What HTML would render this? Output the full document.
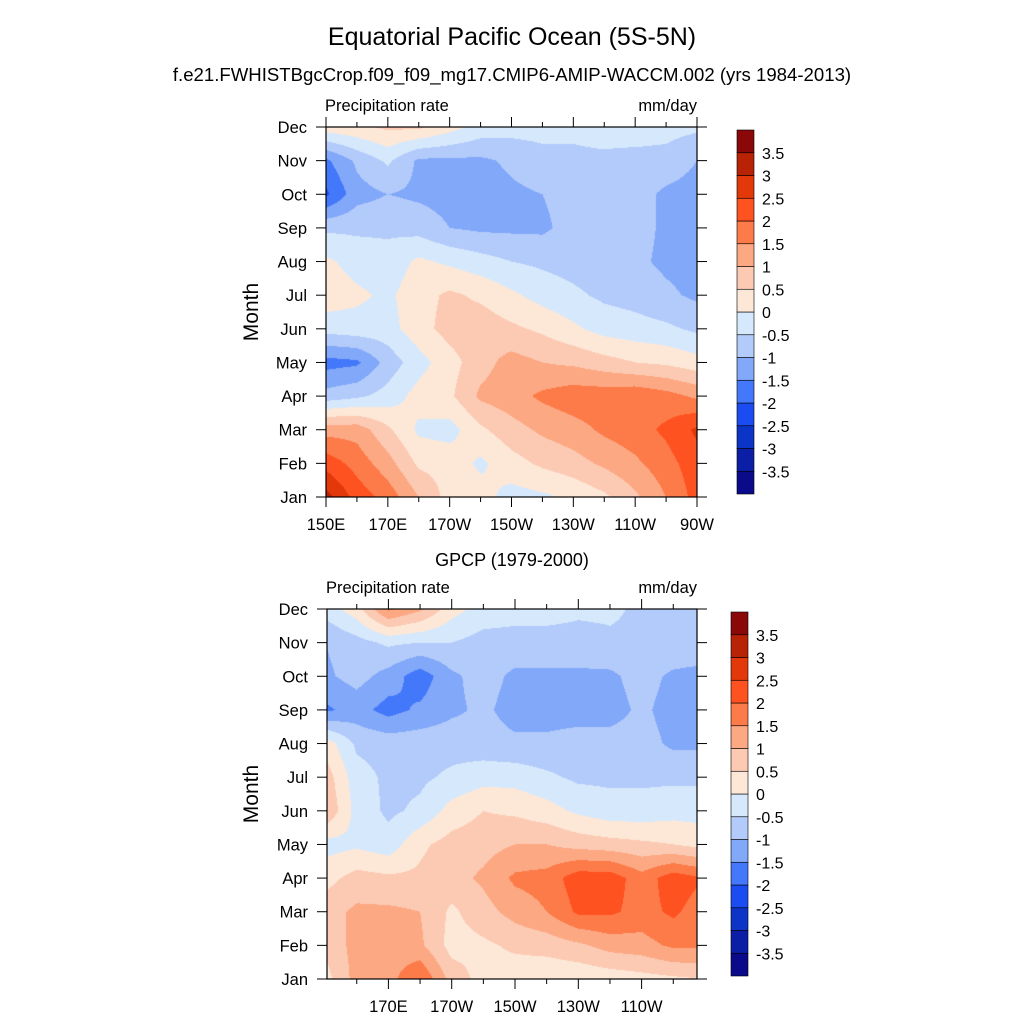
<!DOCTYPE html>
<html><head><meta charset="utf-8">
<style>
body{margin:0;background:#fff;}
#wrap{position:relative;width:1024px;height:1024px;overflow:hidden;background:#fff;font-family:"Liberation Sans",sans-serif;}
canvas{position:absolute;}
svg{position:absolute;left:0;top:0;}
</style></head>
<body>
<div id="wrap">
<canvas id="c1" width="371" height="370" style="left:326px;top:127px"></canvas>
<canvas id="c2" width="370" height="370" style="left:327px;top:609px"></canvas>
<svg id="s" width="1024" height="1024"></svg>
</div>
<script>
const months = ["Jan","Feb","Mar","Apr","May","Jun","Jul","Aug","Sep","Oct","Nov","Dec"];
const lonsDeg = [150,160,170,180,190,200,210,220,230,240,250,260,270];
const xTickLabels = ["150E","170E","170W","150W","130W","110W","90W"];
const xTickLons = [150,170,190,210,230,250,270];
const cbLabels = ["3.5","3","2.5","2","1.5","1","0.5","0","-0.5","-1","-1.5","-2","-2.5","-3","-3.5"];
const levelColors = ["#0a0a8a","#0b1fa6","#0c34c6","#1a4cf2","#4478fb","#82a8f9","#b3cbfa","#d6e8fc","#fde8d8","#fccab3","#fca883","#fd7b48","#fe5220","#e3380a","#b82306","#8a0808"];
// model: rows Jan..Dec, cols 150E..90W
const modelVals = [
[3.2,2.3,1.8,1.0,0.3,0.2,-0.2,-0.1,0.1,0.4,0.9,1.5,2.2],
[2.3,1.8,1.2,0.4,0.3,-0.1,0.3,0.6,0.8,1.1,1.4,1.8,2.3],
[1.3,1.3,0.6,-0.1,-0.2,0.4,0.8,1.1,1.3,1.6,1.8,2.1,2.6],
[-0.8,-0.6,-0.3,0.2,0.4,1.1,1.3,1.6,1.8,1.8,1.9,1.7,1.4],
[-1.7,-1.6,-0.8,-0.2,0.3,0.8,1.2,1.0,0.9,0.7,0.5,0.4,0.2],
[-0.3,-0.2,-0.2,0.3,0.7,0.8,0.6,0.4,0.1,-0.2,-0.3,-0.4,-0.6],
[0.3,0.1,-0.1,0.3,0.6,0.4,0.1,-0.2,-0.4,-0.6,-0.7,-0.9,-1.1],
[0.1,-0.2,-0.3,0.1,-0.1,-0.3,-0.5,-0.6,-0.7,-0.8,-0.9,-1.1,-1.2],
[-0.6,-0.6,-0.6,-0.7,-1.0,-1.1,-1.1,-1.1,-0.8,-0.8,-0.8,-1.1,-1.2],
[-2.1,-1.2,-1.0,-1.1,-1.2,-1.3,-1.1,-1.0,-0.8,-0.8,-0.8,-1.1,-1.2],
[-1.6,-0.9,-0.4,-1.1,-1.1,-1.1,-0.9,-0.7,-0.6,-0.6,-0.7,-0.7,-1.0],
[0.3,0.4,0.6,0.6,0.2,-0.2,-0.3,-0.3,-0.4,-0.3,-0.2,-0.3,-0.4]];
const gpcpVals = [
[0.3,1.2,1.3,2.0,0.8,0.3,0.2,0.1,0.1,0.2,0.3,0.4,0.5],
[0.6,1.2,1.3,1.1,0.3,0.4,0.6,0.7,0.9,1.2,1.3,1.6,1.6],
[0.8,1.1,1.1,1.0,0.4,0.8,1.2,1.5,2.1,2.1,1.8,2.1,1.7],
[0.3,0.7,0.6,0.6,0.8,1.1,1.6,1.7,2.3,2.3,1.7,2.3,2.0],
[-0.2,-0.1,-0.3,0.4,0.7,0.8,1.0,1.0,0.8,0.7,0.6,0.5,0.3],
[1.0,-0.2,-0.6,-0.4,0.2,0.5,0.4,0.2,-0.1,-0.3,-0.3,-0.2,-0.2],
[0.8,-0.3,-0.6,-0.6,-0.4,-0.2,-0.2,-0.4,-0.6,-0.6,-0.6,-0.6,-0.6],
[0.3,-0.6,-0.7,-0.7,-0.7,-0.8,-0.9,-0.9,-0.8,-0.8,-0.8,-1.1,-1.1],
[-1.6,-1.3,-1.7,-1.4,-1.1,-0.9,-1.2,-1.2,-1.2,-1.2,-0.9,-1.2,-1.3],
[-1.1,-0.8,-1.2,-1.8,-1.1,-0.8,-1.1,-1.1,-1.1,-1.1,-0.8,-1.1,-1.2],
[-1.0,-0.7,-0.4,-0.5,-0.5,-0.7,-0.7,-0.7,-0.7,-0.6,-0.6,-0.6,-0.6],
[-0.3,0.3,1.6,1.1,0.2,-0.2,-0.3,-0.3,-0.4,-0.4,-0.6,-0.6,-0.6]];

function level(v){return Math.max(0,Math.min(15,Math.floor(v/0.5)+8));}
function hex2rgb(h){return [parseInt(h.substr(1,2),16),parseInt(h.substr(3,2),16),parseInt(h.substr(5,2),16)];}
const rgbs = levelColors.map(hex2rgb);

function makeAxes(x0,x1,y0,y1,lonMin,lonMax){
  return {
    x:lon=>x0+(lon-lonMin)/(lonMax-lonMin)*(x1-x0),
    xi:px=>lonMin+(px-x0)/(x1-x0)*(lonMax-lonMin),
    y:m=>y1-m/11*(y1-y0),
    yi:py=>(y1-py)/(y1-y0)*11,
    x0,x1,y0,y1
  };
}
const ax1 = makeAxes(326,697,127,497,150,270);
const ax2 = makeAxes(327,697,609,979,150.6,267.5);

function drawContour(canvasId,ax,vals){
  const cv=document.getElementById(canvasId), ctx=cv.getContext('2d');
  const W=cv.width,H=cv.height,img=ctx.createImageData(W,H);
  const left=parseFloat(cv.style.left), top=parseFloat(cv.style.top);
  for(let py=0;py<H;py++){
    let m=ax.yi(top+py+0.5); m=Math.max(0,Math.min(11,m));
    const j=Math.min(10,Math.floor(m)), fy=m-j;
    for(let px=0;px<W;px++){
      let lon=ax.xi(left+px+0.5); let c=(lon-lonsDeg[0])/10; c=Math.max(0,Math.min(12,c));
      const i=Math.min(11,Math.floor(c)), fx=c-i;
      const v=(vals[j][i]*(1-fx)+vals[j][i+1]*fx)*(1-fy)+(vals[j+1][i]*(1-fx)+vals[j+1][i+1]*fx)*fy;
      const col=rgbs[level(v)], k=(py*W+px)*4;
      img.data[k]=col[0];img.data[k+1]=col[1];img.data[k+2]=col[2];img.data[k+3]=255;
    }
  }
  ctx.putImageData(img,0,0);
}
drawContour('c1',ax1,modelVals);
drawContour('c2',ax2,gpcpVals);

const svg=document.getElementById('s');
const NS="http://www.w3.org/2000/svg";
function el(tag,attrs,parent){const e=document.createElementNS(NS,tag);for(const k in attrs)e.setAttribute(k,attrs[k]);(parent||svg).appendChild(e);return e;}
function txt(s,x,y,size,anchor,name,extra){const t=el('text',Object.assign({x:x,y:y,'font-size':size,'text-anchor':anchor||'start','font-family':'Liberation Sans, sans-serif',fill:'#000'},extra||{}));t.textContent=s;


return t;}

txt("Equatorial Pacific Ocean (5S-5N)",512,45,25,'middle','main-title');
txt("f.e21.FWHISTBgcCrop.f09_f09_mg17.CMIP6-AMIP-WACCM.002 (yrs 1984-2013)",512,81,18.6,'middle','subtitle');
txt("GPCP (1979-2000)",512,566,18,'middle','gpcp-title');

function panel(ax,showFirstLast,cb,tag){
  const g=el('g',{});
  
  
  txt("Precipitation rate",ax.x0-1,ax.y0-16,16.5,'start',tag+'-variable-label');
  txt("mm/day",ax.x1,ax.y0-16,16.5,'end',tag+'-units-label');
  const fr=el('rect',{x:ax.x0,y:ax.y0,width:ax.x1-ax.x0,height:ax.y1-ax.y0,fill:'none',stroke:'#000','stroke-width':1.2},g);
  
  
  months.forEach((m,k)=>{
    const y=ax.y(k);
    el('line',{x1:ax.x0-10,x2:ax.x0,y1:y,y2:y,stroke:'#000','stroke-width':1},g);
    el('line',{x1:ax.x1,x2:ax.x1+10,y1:y,y2:y,stroke:'#000','stroke-width':1},g);
    txt(m,ax.x0-19,y+6,16.5,'end',tag+'-month-label-'+m.toLowerCase());
  });
  for(let lon=150;lon<=270;lon+=10){
    const x=ax.x(lon); if(x<ax.x0-0.5||x>ax.x1+0.5) continue;
    const major=(lon-150)%20===0, len=major?10:5;
    el('line',{x1:x,x2:x,y1:ax.y1,y2:ax.y1+len,stroke:'#000','stroke-width':1},g);
    el('line',{x1:x,x2:x,y1:ax.y0-len,y2:ax.y0,stroke:'#000','stroke-width':1},g);
  }
  xTickLons.forEach((lon,k)=>{
    if(!showFirstLast&&(k===0||k===xTickLons.length-1))return;
    txt(xTickLabels[k],ax.x(lon),ax.y1+33,16.5,'middle',tag+'-lon-label-'+xTickLabels[k].toLowerCase());
  });
  txt("Month",0,0,21,'middle',tag+'-y-axis-title',{transform:`translate(258,${(ax.y0+ax.y1)/2}) rotate(-90)`});
  const bh=(cb.y1-cb.y0)/16;
  for(let i=0;i<16;i++){
    const r=el('rect',{x:cb.x,y:cb.y1-(i+1)*bh,width:17,height:bh,fill:levelColors[i],stroke:'#000','stroke-width':0.6});
    
    
  }
  cbLabels.forEach((s,i)=>{
    txt(s,cb.x+25,cb.y0+(i+1)*bh+6,16,'start',tag+'-colorbar-label');
  });
}
panel(ax1,true,{x:737,y0:130,y1:494},'model');
panel(ax2,false,{x:731,y0:612,y1:976},'gpcp');
</script>
</body></html>
